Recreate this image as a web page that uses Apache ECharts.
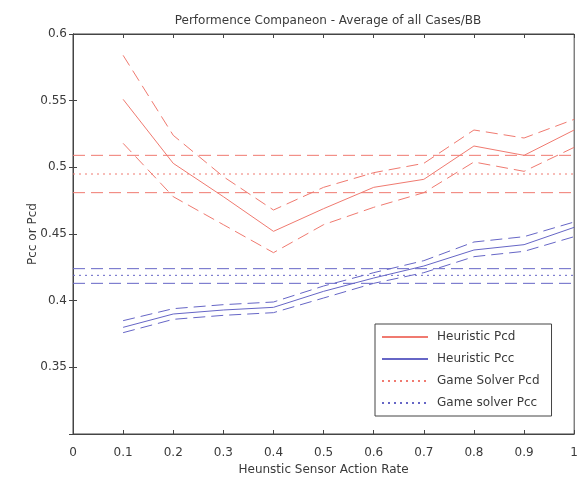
<!DOCTYPE html>
<html>
<head>
<meta charset="utf-8">
<script src="https://cdn.jsdelivr.net/npm/echarts@6/dist/echarts.min.js"></script>
<style>html,body{margin:0;padding:0;background:#fff;}#c{width:581px;height:481px;}</style>
</head>
<body>
<div id="c"></div>
<script>
const rates = [0.1, 0.2, 0.3, 0.4, 0.5, 0.6, 0.7, 0.8, 0.9, 1.0];
const heurPcd      = [0.551, 0.503, 0.478, 0.452, 0.469, 0.485, 0.491, 0.516, 0.509, 0.528];
const heurPcdUpper = [0.584, 0.524, 0.493, 0.468, 0.485, 0.496, 0.503, 0.528, 0.522, 0.536];
const heurPcdLower = [0.518, 0.478, 0.457, 0.436, 0.457, 0.470, 0.481, 0.504, 0.497, 0.515];
const heurPcc      = [0.380, 0.390, 0.393, 0.395, 0.407, 0.417, 0.426, 0.438, 0.442, 0.455];
const heurPccUpper = [0.385, 0.394, 0.397, 0.399, 0.411, 0.421, 0.430, 0.444, 0.448, 0.459];
const heurPccLower = [0.376, 0.386, 0.389, 0.391, 0.402, 0.413, 0.421, 0.433, 0.437, 0.448];
const gamePcd = 0.495, gamePcdUpper = 0.509, gamePcdLower = 0.481;
const gamePcc = 0.419, gamePccUpper = 0.424, gamePccLower = 0.413;
const xTicks = ['0','0.1','0.2','0.3','0.4','0.5','0.6','0.7','0.8','0.9','1'];
const yTicks = {'0.35':'0.35','0.4':'0.4','0.45':'0.45','0.5':'0.5','0.55':'0.55','0.6':'0.6'};

const RED = '#f07a70', BLUE = '#6666c6';
const zip = ys => rates.map((x, i) => [x, ys[i]]);
const flat = v => [[0, v], [1, v]];
const FONT = 'DejaVu Sans';
const TXT = '#3a3a3a';

function line(name, data, color, type, width) {
  return { name: name, type: 'line', data: data, symbol: 'none', showSymbol: false,
    lineStyle: { color: color, width: width || 1, type: type }, itemStyle: { color: color },
    emphasis: { disabled: true }, silent: true, z: 3 };
}
const dash = [12, 6], dot = [2, 4];
const series = [
  line('Heuristic Pcd', zip(heurPcd), RED, 'solid'),
  line('Heuristic Pcc', zip(heurPcc), BLUE, 'solid'),
  line('Game Solver Pcd', flat(gamePcd), RED, dot),
  line('Game solver Pcc', flat(gamePcc), BLUE, dot),
  line('pcdU', zip(heurPcdUpper), RED, dash),
  line('pcdL', zip(heurPcdLower), RED, dash),
  line('pccU', zip(heurPccUpper), BLUE, dash),
  line('pccL', zip(heurPccLower), BLUE, dash),
  line('gpcdU', flat(gamePcdUpper), RED, dash),
  line('gpcdL', flat(gamePcdLower), RED, dash),
  line('gpccU', flat(gamePccUpper), BLUE, dash),
  line('gpccL', flat(gamePccLower), BLUE, dash)
];

const chart = echarts.init(document.getElementById('c'), null, { renderer: 'canvas' });
const axisCol = '#444';
chart.setOption({
  animation: false,
  backgroundColor: '#fff',
  textStyle: { fontFamily: FONT },
  title: { text: 'Performence Companeon - Average of all Cases/BB', left: 323, top: 10, textAlign: 'center',
    textStyle: { fontSize: 12, fontWeight: 'normal', color: TXT, fontFamily: FONT } },
  grid: { left: 73, top: 34, right: 6, bottom: 46, show: true, borderColor: axisCol, borderWidth: 1, backgroundColor: 'transparent' },
  legend: {
    data: ['Heuristic Pcd', 'Heuristic Pcc', 'Game Solver Pcd', 'Game solver Pcc'],
    orient: 'vertical', left: 375, top: 324, padding: [7, 12, 7, 6], itemGap: 10,
    itemWidth: 46, itemHeight: 10, borderColor: axisCol, borderWidth: 1, backgroundColor: '#fff',
    itemStyle: { opacity: 0 },
    textStyle: { fontSize: 12, color: TXT, fontFamily: FONT, padding: [0, 0, 0, 4] },
    selectedMode: false
  },
  xAxis: [
    { type: 'value', min: 0, max: 1, interval: 0.1, position: 'bottom',
      name: 'Heunstic Sensor Action Rate', nameLocation: 'middle', nameGap: 30,
      nameTextStyle: { fontSize: 12, color: TXT, fontFamily: FONT },
      axisLine: { show: true, lineStyle: { color: axisCol } },
      axisTick: { show: true, inside: true, length: 4, lineStyle: { color: axisCol } },
      axisLabel: { fontSize: 12, color: TXT, margin: 13, fontFamily: FONT,
        formatter: v => xTicks[Math.round(v * 10)] },
      splitLine: { show: false } },
    { type: 'value', min: 0, max: 1, interval: 0.1, position: 'top',
      axisLine: { show: true, lineStyle: { color: axisCol } },
      axisTick: { show: true, inside: true, length: 4, lineStyle: { color: axisCol } },
      axisLabel: { show: false }, splitLine: { show: false } }
  ],
  yAxis: [
    { type: 'value', min: 0.3, max: 0.6, interval: 0.05, position: 'left',
      name: 'Pcc or Pcd', nameLocation: 'middle', nameGap: 34, nameMoveOverlap: false,
      nameTextStyle: { fontSize: 12, color: TXT, fontFamily: FONT },
      axisLine: { show: true, lineStyle: { color: axisCol } },
      axisTick: { show: true, inside: true, length: 4, lineStyle: { color: axisCol } },
      axisLabel: { fontSize: 12, color: TXT, margin: 6, fontFamily: FONT,
        formatter: v => yTicks[String(Math.round(v * 100) / 100)] || '' },
      splitLine: { show: false } },
    { type: 'value', min: 0.3, max: 0.6, interval: 0.05, position: 'right',
      axisLine: { show: true, lineStyle: { color: axisCol } },
      axisTick: { show: true, inside: true, length: 4, lineStyle: { color: axisCol } },
      axisLabel: { show: false }, splitLine: { show: false } }
  ],
  series: series
});
</script>
</body>
</html>
